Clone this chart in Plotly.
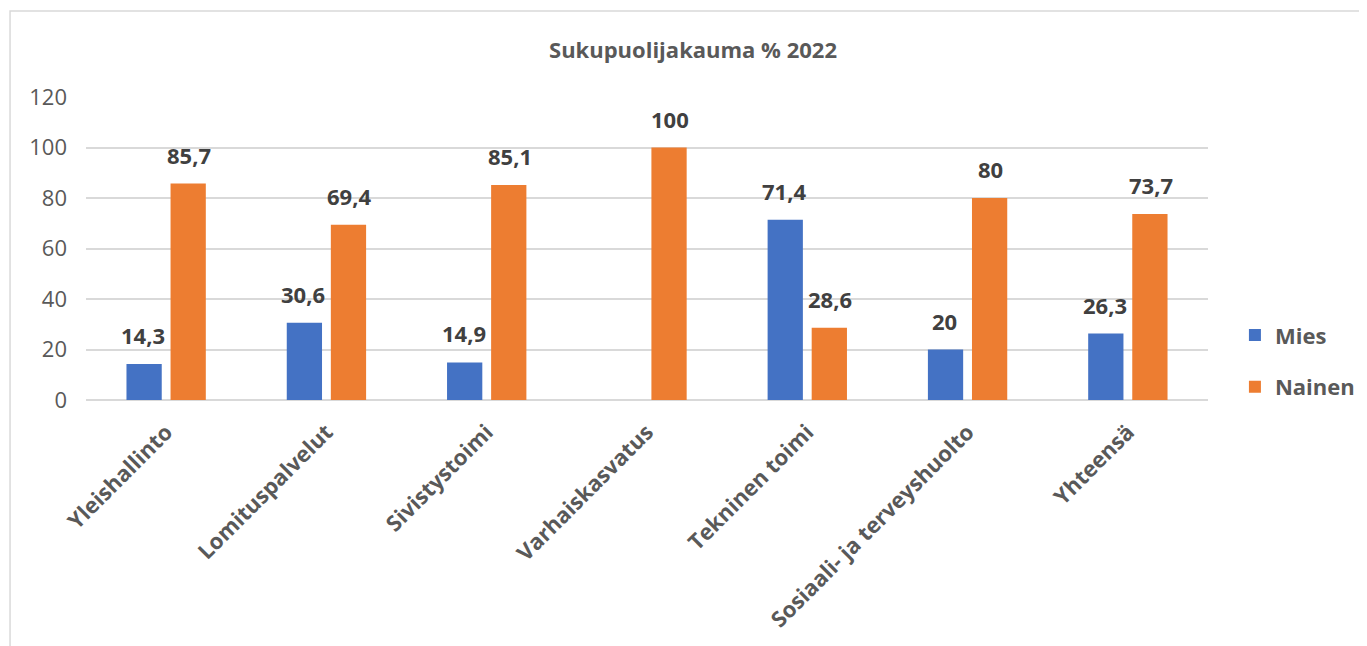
import plotly.graph_objects as go

categories = ["Yleishallinto", "Lomituspalvelut", "Sivistystoimi", "Varhaiskasvatus",
              "Tekninen toimi", "Sosiaali- ja terveyshuolto", "Yhteensä"]
mies = [14.3, 30.6, 14.9, None, 71.4, 20, 26.3]
nainen = [85.7, 69.4, 85.1, 100, 28.6, 80, 73.7]
mies_labels = ["14,3", "30,6", "14,9", "", "71,4", "20", "26,3"]
nainen_labels = ["85,7", "69,4", "85,1", "100", "28,6", "80", "73,7"]

blue = "#4472C4"
orange = "#ED7D31"
fnt = "Open Sans"

fig = go.Figure()
fig.add_trace(go.Bar(x=categories, y=mies, name="Mies", marker_color=blue,
                     marker_line_width=0, legendgroup="m"))
fig.add_trace(go.Bar(x=categories, y=nainen, name="Nainen", marker_color=orange,
                     marker_line_width=0, legendgroup="n"))

# data labels above the bars
for vals, labs, shift in [(mies, mies_labels, -23), (nainen, nainen_labels, 23)]:
    for c, v, t in zip(categories, vals, labs):
        if v is None:
            continue
        fig.add_annotation(x=c, y=v, text="<b>" + t + "</b>", showarrow=False,
                           xshift=shift, yshift=12, yanchor="bottom",
                           font=dict(family=fnt, size=22, color="#404040"))

# chart border (only top/left visible in the crop)
fig.add_shape(type="rect", xref="paper", yref="paper",
              x0=-0.0677, x1=1.3, y0=-1.0, y1=1.2838,
              line=dict(color="#D9D9D9", width=1.5), fillcolor="rgba(0,0,0,0)")

fig.update_layout(
    width=1367, height=646,
    margin=dict(l=78, r=167, t=89, b=254),
    paper_bgcolor="white", plot_bgcolor="white",
    barmode="group", bargap=0.45, bargroupgap=0.2,
    title=dict(text="<b>Sukupuolijakauma % 2022</b>", xref="paper", x=0.541,
               xanchor="center", y=1 - 42 / 646, yanchor="middle",
               font=dict(family=fnt, size=22, color="#595959")),
    legend=dict(x=1.024, xanchor="left", y=0.283, yanchor="top",
                font=dict(family=fnt, size=22, color="#595959", weight="bold"),
                tracegroupgap=20, traceorder="grouped", itemwidth=30),
    showlegend=True,
)
fig.update_xaxes(showgrid=False, showline=False, tickangle=-45, ticklabelstandoff=14,
                 tickfont=dict(family=fnt, size=22, color="#595959", weight="bold"))
fig.update_yaxes(range=[0, 120], dtick=20, showgrid=True, gridcolor="#D9D9D9",
                 gridwidth=1.5, zeroline=True, zerolinecolor="#D9D9D9", zerolinewidth=1.5,
                 ticklabelstandoff=18,
                 tickfont=dict(family=fnt, size=22, color="#595959"))

fig.write_html("out.html")
